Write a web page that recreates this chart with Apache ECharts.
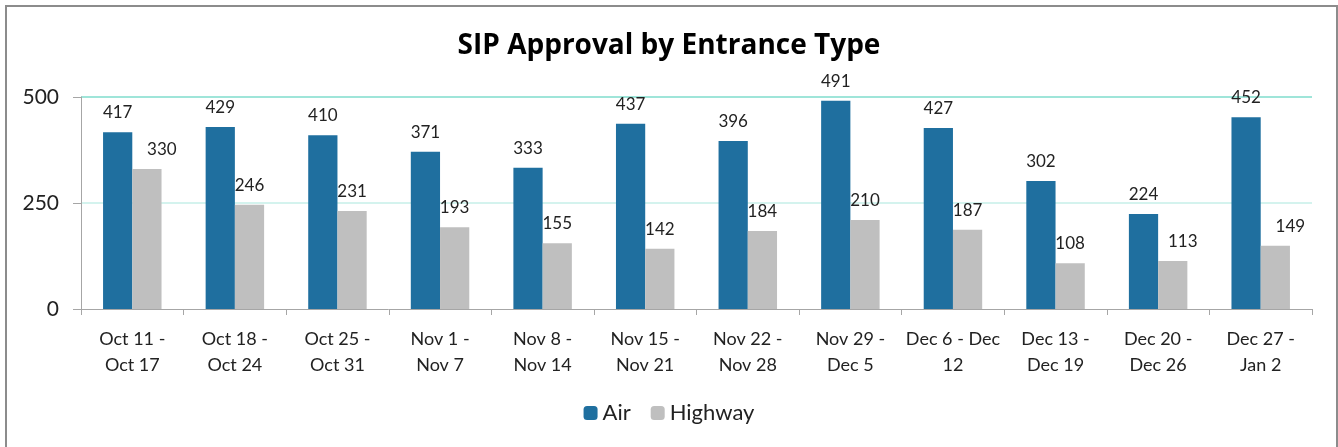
<!DOCTYPE html>
<html>
<head>
<meta charset="utf-8">
<script src="https://cdn.jsdelivr.net/npm/echarts@6/dist/echarts.min.js"></script>
<style>
  html, body { margin: 0; padding: 0; background: #fff; overflow: hidden; }
  #frame { position: absolute; left: 5px; top: 5px; width: 1329px; height: 460px; border: 2px solid #8c8c8c; }
  #visualisation { position: absolute; left: 0; top: 0; width: 1338px; height: 447px; }
</style>
</head>
<body>
<div id="frame"></div>
<div id="visualisation"></div>
<script>
// Data
const categories = ['Oct 11 -\nOct 17', 'Oct 18 -\nOct 24', 'Oct 25 -\nOct 31', 'Nov 1 -\nNov 7',
  'Nov 8 -\nNov 14', 'Nov 15 -\nNov 21', 'Nov 22 -\nNov 28', 'Nov 29 -\nDec 5',
  'Dec 6 - Dec\n12', 'Dec 13 -\nDec 19', 'Dec 20 -\nDec 26', 'Dec 27 -\nJan 2'];
const air = [417, 429, 410, 371, 333, 437, 396, 491, 427, 302, 224, 452];
const highway = [330, 246, 231, 193, 155, 142, 184, 210, 187, 108, 113, 149];

// a few highway labels were nudged to the right in the original
const highwayLabelShift = { 0: 15, 10: 10, 11: 15 };

function drawVisualisation() {
  let visualisation = echarts.init(document.getElementById('visualisation'));
  const font = 'Lato, "Open Sans", sans-serif';

  let highwayData = highway.map((v, i) => {
    let item = { value: v };
    if (highwayLabelShift[i]) item.label = { offset: [highwayLabelShift[i], 0] };
    return item;
  });

  let option = {
    animation: false,
    textStyle: { fontFamily: font },
    title: {
      text: 'SIP Approval by Entrance Type',
      left: 'center',
      top: 27,
      textStyle: { fontSize: 28, fontWeight: 'bold', color: '#000', fontFamily: '"Open Sans", sans-serif' }
    },
    legend: {
      bottom: 18,
      left: 'center',
      itemWidth: 14,
      itemHeight: 14,
      itemGap: 20,
      textStyle: { fontSize: 22, color: '#222', fontFamily: font },
      data: ['Air', 'Highway']
    },
    grid: { left: 81, right: 26, top: 97, bottom: 138 },
    xAxis: {
      type: 'category',
      data: categories,
      axisLine: { lineStyle: { color: '#a6a6a6' } },
      axisTick: { show: true, length: 6, lineStyle: { color: '#a6a6a6' } },
      axisLabel: { fontSize: 18, color: '#222', lineHeight: 26, margin: 17, interval: 0 }
    },
    yAxis: {
      type: 'value',
      min: 0,
      max: 500,
      interval: 250,
      axisLine: { show: true, lineStyle: { color: '#a6a6a6' } },
      axisTick: { show: true, length: 8, lineStyle: { color: '#a6a6a6' } },
      axisLabel: { fontSize: 21, color: '#222', margin: 22 },
      splitLine: { lineStyle: { color: ['#ffffff', '#d4f3ee', '#9fe5d9'], width: 2 } }
    },
    series: [
      {
        name: 'Air',
        type: 'bar',
        data: air,
        barGap: '0%',
        barCategoryGap: '43%',
        itemStyle: { color: '#1f6f9f' },
        label: { show: true, position: 'top', distance: 11, fontSize: 17, color: '#222' }
      },
      {
        name: 'Highway',
        type: 'bar',
        data: highwayData,
        itemStyle: { color: '#bfbfbf' },
        label: { show: true, position: 'top', distance: 11, fontSize: 17, color: '#222' }
      }
    ]
  };
  visualisation.setOption(option);
}

window.addEventListener('load', drawVisualisation);
</script>
</body>
</html>
